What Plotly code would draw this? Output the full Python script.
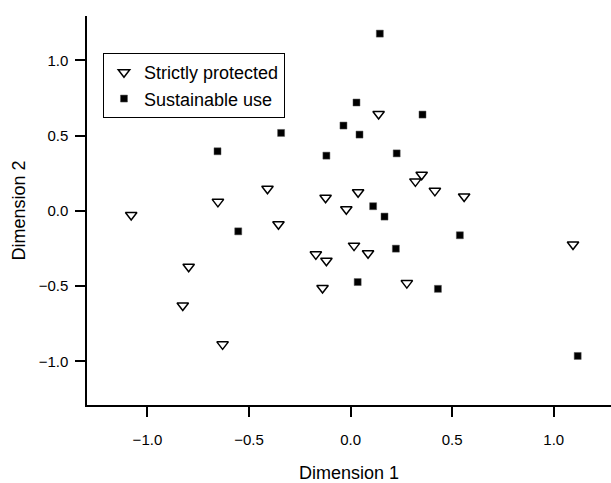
import plotly.graph_objects as go

# Strictly protected (open down-triangles)
sp_x = [-1.080, -0.653, -0.797, -0.826, -0.630, -0.409, -0.355, -0.123, -0.021, 0.037,
        0.138, -0.171, -0.119, -0.138, 0.017, 0.086, 0.277, 0.319, 0.350, 0.415,
        0.559, 1.095]
sp_y = [-0.027, 0.060, -0.371, -0.629, -0.887, 0.147, -0.089, 0.087, 0.011, 0.124,
        0.644, -0.289, -0.331, -0.513, -0.231, -0.282, -0.480, 0.196, 0.240, 0.133,
        0.096, -0.224]

# Sustainable use (filled squares)
su_x = [0.144, 0.029, 0.354, -0.342, -0.655, -0.035, 0.044, -0.119, 0.227, 0.111,
        0.167, -0.553, 0.538, 0.223, 0.035, 0.430, 1.118]
su_y = [1.178, 0.720, 0.640, 0.518, 0.396, 0.567, 0.507, 0.367, 0.382, 0.031,
        -0.038, -0.136, -0.162, -0.251, -0.473, -0.518, -0.964]

tick_vals = [-1.0, -0.5, 0.0, 0.5, 1.0]
tick_text = ["\u22121.0", "\u22120.5", "0.0", "0.5", "1.0"]

FONT = "Liberation Sans, Arial, Helvetica, sans-serif"

fig = go.Figure()
fig.add_trace(go.Scatter(
    x=sp_x, y=sp_y, mode="markers", name="Strictly protected",
    marker=dict(symbol="triangle-down-open", size=10, color="black",
                line=dict(width=1.5, color="black")),
))
fig.add_trace(go.Scatter(
    x=su_x, y=su_y, mode="markers", name="Sustainable use",
    marker=dict(symbol="square", size=7, color="black",
                line=dict(width=0.5, color="#555")),
))

axis_common = dict(
    showline=True, linecolor="black", linewidth=1.5,
    ticks="outside", ticklen=10, tickwidth=1.5, tickcolor="black",
    showgrid=False, zeroline=False, mirror=False, automargin=False,
    tickvals=tick_vals, ticktext=tick_text,
    tickfont=dict(family=FONT, size=15, color="black"),
)

fig.update_layout(
    width=611, height=483,
    margin=dict(l=87, r=0, t=16, b=78),
    paper_bgcolor="white", plot_bgcolor="white",
    font=dict(family=FONT, color="black"),
    xaxis=dict(range=[-1.2975, 1.282], **axis_common,
               ticklabelstandoff=10,
               title=dict(text="Dimension 1", font=dict(family=FONT, size=18), standoff=27)),
    yaxis=dict(range=[-1.29, 1.295], **axis_common,
               ticklabelstandoff=4,
               title=dict(text="Dimension 2", font=dict(family=FONT, size=18), standoff=8)),
    showlegend=True,
    legend=dict(x=0.0305, y=0.905, xanchor="left", yanchor="top",
                bordercolor="black", borderwidth=1, bgcolor="white",
                font=dict(family=FONT, size=18, color="black"),
                itemwidth=30),
)

fig.write_html("out.html",
               config={"displayModeBar": False},
               post_script="document.body.style.margin='0';document.body.style.padding='0';")
